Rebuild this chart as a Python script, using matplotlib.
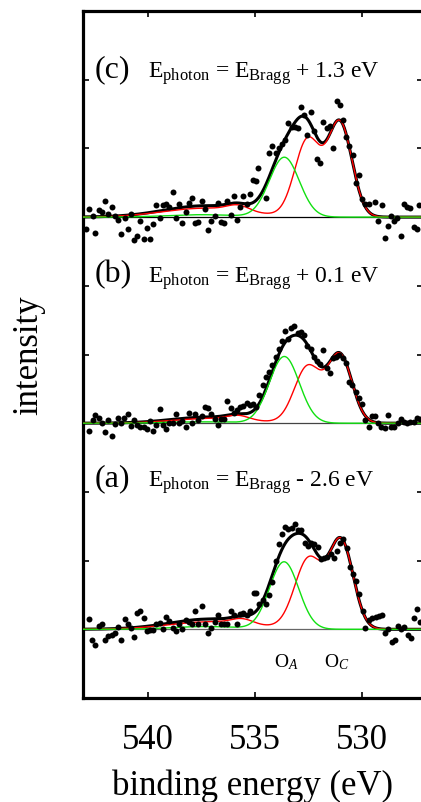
import numpy as np
import matplotlib
matplotlib.use("Agg")
import matplotlib.pyplot as plt

plt.rcParams['font.family'] = ['Liberation Serif', 'DejaVu Serif']
plt.rcParams['mathtext.fontset'] = 'custom'
plt.rcParams['mathtext.rm'] = 'Liberation Serif'
plt.rcParams['mathtext.it'] = 'Liberation Serif:italic'

# ---------------- data ----------------
# measured points: binding energy (eV) and intensity above each baseline (tick units)
energy_c = [542.89, 542.75, 542.58, 542.45, 542.28, 542.13, 542.0, 541.85, 541.69, 541.55,
            541.4, 541.24, 541.09, 540.95, 540.81, 540.65, 540.5, 540.36, 540.2, 540.04,
            539.9, 539.75, 539.61, 539.45, 539.31, 539.14, 539.0, 538.85, 538.69, 538.55,
            538.4, 538.24, 538.1, 537.94, 537.79, 537.65, 537.49, 537.34, 537.18, 537.04,
            536.89, 536.75, 536.59, 536.45, 536.3, 536.14, 536.0, 535.84, 535.69, 535.55,
            535.39, 535.24, 535.11, 534.98, 534.85, 534.51, 534.35, 534.2, 534.04, 533.9,
            533.75, 533.59, 533.45, 533.3, 533.14, 532.99, 532.85, 532.71, 532.56, 532.41,
            532.25, 532.11, 531.96, 531.82, 531.66, 531.52, 531.35, 531.2, 531.06, 530.9,
            530.76, 530.61, 530.45, 530.31, 530.15, 530.01, 529.86, 529.69, 529.39, 529.25,
            529.1, 528.96, 528.8, 528.66, 528.51, 528.37, 528.21, 528.06, 527.91, 527.76,
            527.6, 527.46, 527.35]
inten_c = [-0.17, 0.12, 0.02, -0.23, 0.10, 0.07, 0.23, 0.04, 0.14, 0.01,
           -0.04, -0.25, -0.01, -0.17, 0.05, -0.34, -0.27, -0.06, -0.32, -0.16,
           -0.32, -0.10, 0.17, -0.02, 0.18, 0.19, 0.15, 0.36, -0.01, 0.19,
           -0.09, 0.07, 0.21, 0.28, -0.08, -0.07, 0.23, 0.12, -0.19, -0.06,
           0.01, 0.21, -0.07, -0.09, 0.23, 0.03, 0.31, -0.04, 0.15, 0.31,
           0.19, 0.33, 0.54, 0.53, 0.72, 0.28, 0.93, 1.03, 0.93, 1.00,
           1.07, 1.12, 1.37, 1.31, 1.31, 1.30, 1.60, 1.48, 1.20, 1.53,
           1.26, 0.84, 0.79, 1.38, 1.30, 1.33, 1.00, 1.69, 1.63, 1.41,
           1.17, 1.04, 0.91, 0.50, 0.62, 0.27, 0.19, 0.19, 0.22, -0.05,
           0.17, -0.30, -0.13, 0.01, -0.06, -0.02, -0.28, 0.19, 0.15, 0.13,
           -0.14, -0.18, 0.18]

energy_b = [542.75, 542.58, 542.45, 542.3, 542.14, 542.0, 541.85, 541.69, 541.55, 541.41,
            541.24, 541.1, 540.95, 540.79, 540.65, 540.5, 540.36, 540.2, 540.04, 539.9,
            539.75, 539.61, 539.45, 539.31, 539.14, 539.0, 538.85, 538.69, 538.55, 538.4,
            538.24, 538.1, 537.94, 537.79, 537.65, 537.49, 537.34, 537.2, 537.04, 536.89,
            536.75, 536.59, 536.45, 536.3, 536.14, 536.0, 535.84, 535.69, 535.55, 535.39,
            535.24, 535.12, 534.96, 534.8, 534.65, 534.49, 534.34, 534.2, 534.04, 533.9,
            533.75, 533.59, 533.45, 533.31, 533.17, 533.02, 532.86, 532.72, 532.57, 532.41,
            532.27, 532.11, 531.96, 531.82, 531.66, 531.52, 531.37, 531.23, 531.07, 530.92,
            530.76, 530.62, 530.47, 530.31, 530.17, 530.01, 529.86, 529.7, 529.56, 529.41,
            529.25, 529.11, 528.96, 528.8, 528.66, 528.51, 528.35, 528.21, 528.06, 527.91,
            527.76, 527.6, 527.46, 527.31]
inten_b = [-0.11, 0.04, 0.12, 0.08, 0.01, -0.13, 0.04, -0.19, -0.01, 0.08,
           0.01, 0.07, 0.13, -0.04, 0.05, -0.02, -0.05, -0.06, -0.08, 0.03,
           -0.12, -0.02, 0.21, -0.02, -0.09, 0.0, 0.0, 0.14, 0.01, 0.03,
           -0.06, 0.15, 0.0, 0.13, 0.04, 0.11, 0.24, 0.22, 0.13, 0.06,
           -0.02, 0.06, 0.06, 0.33, 0.22, 0.15, 0.19, 0.24, 0.25, 0.29,
           0.26, 0.28, 0.23, 0.41, 0.55, 0.67, 0.74, 0.85, 0.97, 1.08,
           1.20, 1.34, 1.23, 1.39, 1.41, 1.31, 1.33, 1.28, 1.13, 1.08,
           0.97, 0.91, 0.86, 1.07, 0.80, 0.73, 0.95, 0.96, 0.99, 0.95,
           0.87, 0.60, 0.55, 0.46, 0.36, 0.28, 0.05, -0.05, 0.10, 0.10,
           0.0, -0.06, -0.07, 0.12, -0.05, -0.05, 0.0, 0.06, 0.02, 0.01,
           0.02, 0.02, 0.08, 0.06]

energy_a = [542.75, 542.59, 542.45, 542.3, 542.14, 542.0, 541.85, 541.69, 541.55, 541.4,
            541.24, 541.09, 540.95, 540.79, 540.65, 540.5, 540.36, 540.2, 540.04, 539.9,
            539.75, 539.61, 539.45, 539.31, 539.14, 539.0, 538.85, 538.69, 538.55, 538.4,
            538.24, 538.1, 537.94, 537.79, 537.65, 537.49, 537.34, 537.18, 537.04, 536.89,
            536.75, 536.59, 536.45, 536.3, 536.14, 536.0, 535.84, 535.69, 535.55, 535.39,
            535.24, 535.05, 534.96, 534.8, 534.65, 534.51, 534.35, 534.2, 534.04, 533.9,
            533.75, 533.59, 533.45, 533.3, 533.14, 532.99, 532.85, 532.69, 532.53, 532.39,
            532.24, 532.08, 531.93, 531.79, 531.63, 531.48, 531.34, 531.18, 531.04, 530.89,
            530.73, 530.59, 530.45, 530.29, 530.15, 529.98, 529.86, 529.69, 529.53, 529.38,
            529.22, 529.08, 528.94, 528.78, 528.63, 528.48, 528.35, 528.2, 528.04, 527.88,
            527.73, 527.59, 527.46, 527.31]
inten_a = [0.15, -0.15, -0.23, 0.05, 0.07, -0.16, -0.10, -0.08, -0.06, 0.04,
           -0.16, 0.15, 0.07, 0.02, -0.11, 0.23, 0.27, 0.16, -0.03, -0.01,
           -0.01, 0.08, 0.09, 0.0, 0.18, 0.12, 0.02, -0.03, 0.07, 0.0,
           0.13, 0.11, 0.07, 0.26, 0.08, 0.34, 0.07, -0.06, 0.02, 0.11,
           0.21, 0.08, 0.07, 0.07, 0.26, 0.21, 0.07, 0.22, 0.23, 0.21,
           0.27, 0.53, 0.53, 0.37, 0.42, 0.37, 0.50, 0.69, 0.99, 1.24,
           1.38, 1.49, 1.46, 1.47, 1.53, 1.44, 1.44, 1.26, 1.21, 1.25,
           1.24, 1.20, 1.02, 1.04, 1.05, 1.10, 1.04, 1.14, 1.25, 1.31,
           1.19, 0.91, 0.81, 0.70, 0.52, 0.27, 0.02, 0.13, 0.16, 0.18,
           0.20, 0.21, -0.06, 0.01, -0.18, -0.16, 0.05, 0.0, 0.03, -0.08,
           -0.12, 0.17, 0.29, 0.10]

# fitted Gaussian components: centre (eV), height, sigma (eV)
green_centre_c = [533.64, 537.5]
green_height_c = [0.87, 0.035]
green_sigma_c = [0.70, 1.6]
red_centre_c = [531.04, 532.55, 535.8, 537.3]
red_height_c = [1.36, 1.12, 0.08, 0.13]
red_sigma_c = [0.56, 0.60, 0.5, 2.0]

green_centre_b = [533.64, 537.5]
green_height_b = [0.97, 0.02]
green_sigma_b = [0.70, 1.6]
red_centre_b = [531.04, 532.55, 535.8, 537.0]
red_height_b = [0.98, 0.82, 0.06, 0.07]
red_sigma_b = [0.56, 0.62, 0.5, 1.8]

green_centre_a = [533.65, 537.3]
green_height_a = [0.98, 0.04]
green_sigma_a = [0.68, 1.6]
red_centre_a = [530.98, 532.5, 535.6, 537.0]
red_height_a = [1.26, 1.02, 0.07, 0.11]
red_sigma_a = [0.56, 0.65, 0.5, 2.0]

panel_letters = ['(a)', '(b)', '(c)']
panel_shifts = ['- 2.6 eV', '+ 0.1 eV', '+ 1.3 eV']
x_ticks = [540, 535, 530]
peak_names = [r'O$_{\it A}$', r'O$_{\it C}$']
peak_positions = [533.55, 531.2]

# ---------------- figure ----------------
W, H = 421, 803
fig = plt.figure(figsize=(W / 100, H / 100), dpi=100)
ax_left, ax_right, ax_top, ax_bottom = 83, 423, 12, 699
ax = fig.add_axes([ax_left / W, (H - ax_bottom) / H,
                   (ax_right - ax_left) / W, (ax_bottom - ax_top) / H])

xmin, xmax = 543.03, 527.17
ax.set_xlim(xmin, xmax)
ax.set_ylim(0, 10)

grid = np.linspace(xmin, xmax, 800)

def gsum(c, h, s):
    out = np.zeros_like(grid)
    for ci, hi, si in zip(c, h, s):
        out += hi * np.exp(-(grid - ci) ** 2 / (2 * si ** 2))
    return out

panels = [
    (energy_a, inten_a, green_centre_a, green_height_a, green_sigma_a,
     red_centre_a, red_height_a, red_sigma_a),
    (energy_b, inten_b, green_centre_b, green_height_b, green_sigma_b,
     red_centre_b, red_height_b, red_sigma_b),
    (energy_c, inten_c, green_centre_c, green_height_c, green_sigma_c,
     red_centre_c, red_height_c, red_sigma_c),
]
offsets = [1, 4, 7]
label_y = [3.09, 6.06, 9.05]
base_colors = ['#666666', '#444444', 'black']

for i, (e, y, gc, gh, gs, rc, rh, rs) in enumerate(panels):
    off = offsets[i]
    green = gsum(gc, gh, gs)
    red = gsum(rc, rh, rs)
    total = green + red
    ax.axhline(off, color=base_colors[i], lw=0.9, zorder=1)
    ax.plot(grid, total + off, color='black', lw=2.2, zorder=2)
    ax.plot(grid, red + off, color='#ff0000', lw=1.0, zorder=3)
    ax.plot(grid, green + off, color='#11e011', lw=1.0, zorder=4)
    ax.plot(e, np.array(y) + off, 'o', color='black', ms=4.3, mec='none', zorder=5)
    ax.text(542.47, label_y[i], panel_letters[i], fontsize=23, ha='left', va='baseline')
    ax.text(540.0, label_y[i],
            r'$\mathrm{E}_{\mathrm{photon}}$ = $\mathrm{E}_{\mathrm{Bragg}}$ ' + panel_shifts[i],
            fontsize=17, ha='left', va='baseline')

for name, pos in zip(peak_names, peak_positions):
    ax.text(pos, 0.53, name, fontsize=14, ha='center', va='center')

ax.set_xticks(x_ticks)
ax.set_xticklabels([str(t) for t in x_ticks])
ax.set_yticks(range(1, 10))
ax.set_yticklabels([])
ax.tick_params(axis='both', direction='in', length=4, width=1.2,
               top=True, right=True, labelsize=25)
ax.tick_params(axis='x', pad=18)
for sp in ax.spines.values():
    sp.set_linewidth(2.3)

ax.set_xlabel('binding energy (eV)', fontsize=25, va='baseline')
ax.xaxis.set_label_coords(0.5, (699 - 795) / 687)
ax.set_ylabel('intensity', fontsize=25)
ax.yaxis.set_label_coords(-0.112, 0.5)

fig.savefig('out.png', dpi=100)
